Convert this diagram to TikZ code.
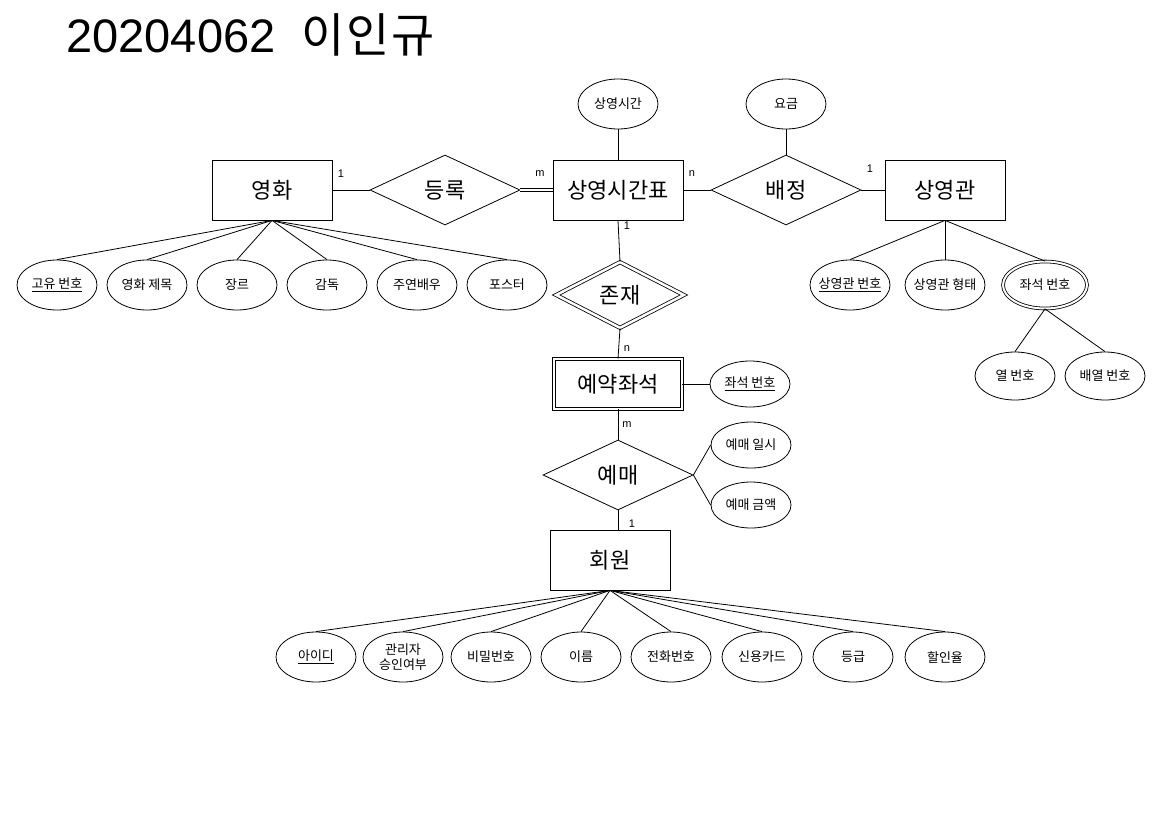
\documentclass[tikz,border=0pt]{standalone}
\usepackage{fontspec}
\setmainfont{Noto Sans CJK KR}
\newfontfamily\latinfont{Liberation Sans}
\usetikzlibrary{shapes.geometric}
\usetikzlibrary{positioning}

\begin{document}
\begin{tikzpicture}[
    x=1pt, y=-1pt,
    line width=0.8pt,
    entity/.style={rectangle, draw, minimum width=120pt, minimum height=60pt, inner sep=0pt, font=\fontsize{22}{26}\selectfont},
    relation/.style={diamond, draw, minimum width=150pt, minimum height=70pt, inner sep=0pt, font=\fontsize{22}{26}\selectfont},
    attr/.style={ellipse, draw, minimum width=80pt, minimum height=50pt, inner xsep=-12pt, inner ysep=0pt, align=center, font=\fontsize{13}{15}\selectfont},
    card/.style={inner sep=0pt, font=\latinfont\fontsize{11}{13}\selectfont}
]
\useasboundingbox (0,0) rectangle (1169,827);

% --- Title ---
\node[anchor=base west, inner sep=0pt, font=\fontsize{47}{52}\selectfont] (title) at (66,52) {{\latinfont 20204062}\hspace{26pt}이\hspace{2pt}인\hspace{2pt}규};

% --- Entities and relations ---
\node[entity] (movie) at (272,190) {영화};
\node[relation] (reg) at (445,190) {등록};
\node[entity, minimum width=130pt] (sched) at (618,190) {상영시간표};
\node[relation] (assign) at (786,190) {배정};
\node[entity] (hall) at (945,190) {상영관};
\node[relation, double, double distance=2.5pt, minimum width=128pt, minimum height=66pt] (exist) at (620,295) {존재};
\node[entity, double, double distance=2.5pt, minimum width=128pt, minimum height=50pt] (seat) at (618,384) {예약좌석};
\node[relation] (book) at (618,475) {예매};
\node[entity] (member) at (610,560) {회원};

% --- Relation attributes ---
\node[attr] (showtime) at (618,104) {상영시간};
\node[attr] (fee) at (786,104) {요금};
\node[attr, minimum height=46pt] (seatno) at (750,384) {\underline{좌석 번호}};
\node[attr, minimum height=46pt] (bdate) at (751,445) {예매 일시};
\node[attr, minimum height=46pt] (bamt) at (751,505) {예매 금액};

% --- Connections ---
\draw (movie.east) -- (reg.west);
\draw[double, double distance=2pt] (reg.east) -- (sched.west);
\draw (sched.east) -- (assign.west);
\draw (assign.east) -- (hall.west);
\draw (showtime) -- (sched.north);
\draw (fee) -- (assign.north);
\draw (sched.south) -- (exist.north);
\draw (exist.south) -- (seat.north);
\draw (seat.east) -- (seatno);
\draw (seat.south) -- (book.north);
\draw (book.east) -- (bdate.west);
\draw (book.east) -- (bamt.west);
\draw (book.south) -- (book.south |- member.north);

% --- Cardinalities ---
\node[card] (c1) at (341,174) {1};
\node[card] (c2) at (540,174) {m};
\node[card] (c3) at (692,174) {n};
\node[card] (c4) at (870,169) {1};
\node[card] (c5) at (627,226) {1};
\node[card] (c6) at (627,349) {n};
\node[card] (c7) at (627,425) {m};
\node[card] (c8) at (632,524) {1};

% --- Movie attributes ---
\foreach \nm/\px/\txt in {mid/57/{\underline{고유 번호}}, mtitle/147/영화 제목, genre/237/장르, director/327/감독, actor/417/주연배우, poster/507/포스터}
{
    \node[attr] (\nm) at (\px,285) {\txt};
    \draw (movie.south) -- (\nm.north);
}

% --- Hall attributes ---
\node[attr] (hno) at (850,285) {\underline{상영관 번호}};
\node[attr] (htype) at (945,285) {상영관 형태};
\node[attr, double, double distance=2pt, minimum width=84pt, minimum height=47pt] (hseat) at (1045,285) {좌석 번호};
\node[attr, minimum height=48pt] (row) at (1015,376) {열 번호};
\node[attr, minimum height=48pt] (col) at (1105,376) {배열 번호};
\foreach \nm in {hno, htype, hseat}
{
    \draw (hall.south) -- (\nm.north);
}
\draw (hseat.south) -- (row.north);
\draw (hseat.south) -- (col.north);

% --- Member attributes ---
\foreach \nm/\px/\txt in {uid/316/{\underline{아이디}}, admin/403/{관리자\\승인여부}, pw/491/비밀번호, uname/581/이름, phone/671/전화번호, card/762/신용카드, grade/853/등급, discount/945/할인율}
{
    \node[attr] (\nm) at (\px,657) {\txt};
    \draw (member.south) -- (\nm.north);
}

\end{tikzpicture}
\end{document}
